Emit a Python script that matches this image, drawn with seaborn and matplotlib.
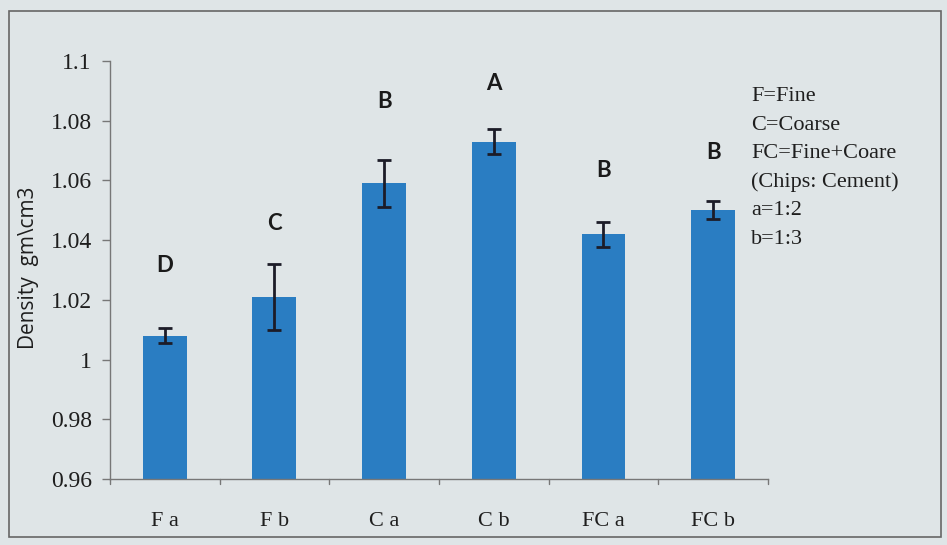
import matplotlib
matplotlib.use("Agg")
import matplotlib.pyplot as plt
import seaborn as sns
import pandas as pd
from matplotlib.patches import Rectangle

# Density of chip/cement mixes
categories = ["F a", "F b", "C a", "C b", "FC a", "FC b"]
density = [1.008, 1.021, 1.059, 1.073, 1.042, 1.050]
errors = [0.0025, 0.011, 0.008, 0.0043, 0.0042, 0.003]
groups = ["D", "C", "B", "A", "B", "B"]
letter_y = [1.0315, 1.0455, 1.0865, 1.0925, 1.0635, 1.0695]
notes = ["F=Fine", "C=Coarse", "FC=Fine+Coare", "(Chips: Cement)", "a=1:2", "b=1:3"]
y_ticks = [0.96, 0.98, 1.0, 1.02, 1.04, 1.06, 1.08, 1.1]
y_tick_labels = ["0.96", "0.98", "1", "1.02", "1.04", "1.06", "1.08", "1.1"]

bg = "#dfe5e7"
bar_color = "#2a7dc2"

sns.set_theme(style="white")
plt.rcParams["font.family"] = ["Liberation Serif", "DejaVu Serif"]

fig = plt.figure(figsize=(9.47, 5.45), dpi=100, facecolor=bg)
ax = fig.add_axes([0.116, 0.121, 0.695, 0.767], facecolor=bg)

df = pd.DataFrame({"group": categories, "density": density})
sns.barplot(data=df, x="group", y="density", color=bar_color, width=0.4,
            saturation=1, errorbar=None, linewidth=0, ax=ax)
ax.errorbar(range(len(categories)), density, yerr=errors, fmt="none",
            ecolor="#1c1c28", elinewidth=2, capsize=5, capthick=2, zorder=3)

for i, (lab, yy) in enumerate(zip(groups, letter_y)):
    ax.text(i, yy, lab, ha="center", va="center", fontsize=16, fontweight="bold",
            family=["Lato", "DejaVu Sans"], color="#1a1a1a")

ax.set_ylim(0.96, 1.1)
ax.set_xlim(-0.5, len(categories) - 0.5)
ax.set_yticks(y_ticks)
ax.set_yticklabels(y_tick_labels, fontsize=17, color="#1e1e1e")
ax.set_xticks(range(len(categories)))
ax.set_xticklabels(categories, fontsize=16, color="#1e1e1e")
ax.tick_params(axis="x", length=0, pad=24)
ax.tick_params(axis="y", length=6, width=1, color="#777777", direction="out", pad=7, left=True)
# boundary ticks between categories on the x-axis
for b in [k - 0.5 for k in range(len(categories) + 1)]:
    ax.plot([b, b], [0.96, 0.9585], color="#777777", lw=1, clip_on=False)

ax.set_xlabel("")
ax.set_ylabel("Density  gm\\cm3", fontsize=15, family=["Open Sans", "DejaVu Sans"],
              color="#1e1e1e")
ax.yaxis.set_label_coords(-0.108, 0.505)

for side in ["top", "right"]:
    ax.spines[side].set_visible(False)
for side in ["left", "bottom"]:
    ax.spines[side].set_color("#777777")
    ax.spines[side].set_linewidth(1)

for k, line in enumerate(notes):
    fig.text(0.793, 0.823 - k * 0.0525, line, fontsize=16, color="#1e1e1e", va="center")

fig.patches.append(Rectangle((0.009, 0.015), 0.985, 0.965, transform=fig.transFigure,
                             fill=False, edgecolor="#666666", lw=1.2))

fig.savefig("out.png", dpi=100, facecolor=bg)
